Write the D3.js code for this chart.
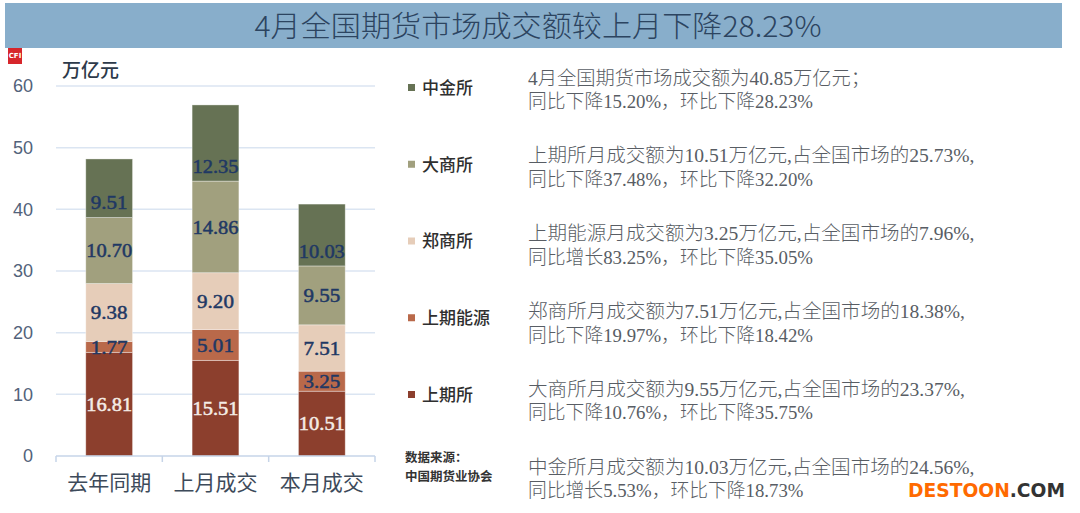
<!DOCTYPE html>
<html><head><meta charset="utf-8">
<script src="https://cdn.jsdelivr.net/npm/d3@7"></script>
<style>html,body{margin:0;padding:0;background:#fff;}svg{display:block;}</style>
</head><body>
<svg id="c" width="1080" height="513"></svg>
<script>
const title = "4月全国期货市场成交额较上月下降28.23%";
const unitLabel = "万亿元";
const categories = ["去年同期", "上月成交", "本月成交"];
const seriesNames = ["上期所", "上期能源", "郑商所", "大商所", "中金所"]; // bottom to top
const shfe  = [16.81, 15.51, 10.51];
const ine   = [1.77, 5.01, 3.25];
const czce  = [9.38, 9.20, 7.51];
const dce   = [10.70, 14.86, 9.55];
const cffex = [9.51, 12.35, 10.03];
const yTicks = [0, 10, 20, 30, 40, 50, 60];
const colors = ["#8c3f2d", "#b9694a", "#e6cdb9", "#a1a07e", "#667254"];
const notes = [
  ["4月全国期货市场成交额为40.85万亿元；", "同比下降15.20%，环比下降28.23%"],
  ["上期所月成交额为10.51万亿元,占全国市场的25.73%,", "同比下降37.48%，环比下降32.20%"],
  ["上期能源月成交额为3.25万亿元,占全国市场的7.96%,", "同比增长83.25%，环比下降35.05%"],
  ["郑商所月成交额为7.51万亿元,占全国市场的18.38%,", "同比下降19.97%，环比下降18.42%"],
  ["大商所月成交额为9.55万亿元,占全国市场的23.37%,", "同比下降10.76%，环比下降35.75%"],
  ["中金所月成交额为10.03万亿元,占全国市场的24.56%,", "同比增长5.53%，环比下降18.73%"]
];
const sourceLines = ["数据来源：", "中国期货业协会"];

const svg = d3.select("#c");
const CJK = "'Noto Sans CJK SC', sans-serif";
const SERIF = "'Liberation Serif', 'Noto Sans CJK SC', serif";

// title bar
svg.append("rect").attr("x", 5).attr("y", 3).attr("width", 1057).attr("height", 45).attr("fill", "#88aecb");
svg.append("text").attr("x", 538).attr("y", 27).attr("dy", "0.35em").attr("text-anchor", "middle")
  .attr("font-family", CJK).attr("font-weight", 300).attr("font-size", 29).attr("fill", "#2c4460")
  .attr("textLength", 567).attr("lengthAdjust", "spacingAndGlyphs").text(title);

// logo
svg.append("rect").attr("x", 8).attr("y", 48).attr("width", 14).attr("height", 16).attr("fill", "#d7262b");
svg.append("text").attr("x", 15).attr("y", 56).attr("dy", "0.35em").attr("text-anchor", "middle")
  .attr("font-family", "DejaVu Sans").attr("font-weight", "bold").attr("font-size", 7).attr("fill", "#fff").text("CFI");

// unit
svg.append("text").attr("x", 62).attr("y", 70).attr("dy", "0.35em")
  .attr("font-family", CJK).attr("font-weight", 500).attr("font-size", 19).attr("fill", "#2d3a4a").text(unitLabel);

// scales
const y = d3.scaleLinear().domain([0, 60]).range([456, 86]);
const x = d3.scaleBand().domain(categories).range([56, 375]).paddingInner(0.56).paddingOuter(0.28);

// grid
svg.append("g").selectAll("line").data(yTicks.filter(d => d > 0)).join("line")
  .attr("x1", 56).attr("x2", 375).attr("y1", d => y(d)).attr("y2", d => y(d))
  .attr("stroke", "#dbe5f2").attr("stroke-width", 1.5);

// y tick labels
svg.append("g").selectAll("text").data(yTicks).join("text")
  .attr("x", 33).attr("y", d => y(d)).attr("dy", "0.35em").attr("text-anchor", "end")
  .attr("font-family", "'Liberation Sans', sans-serif").attr("font-size", 18).attr("fill", "#52627a")
  .text(d => d);

// stacked data
const table = categories.map((c, i) => ({
  cat: c, "上期所": shfe[i], "上期能源": ine[i], "郑商所": czce[i], "大商所": dce[i], "中金所": cffex[i]
}));
const stacked = d3.stack().keys(seriesNames)(table);

const layers = svg.append("g").selectAll("g").data(stacked).join("g")
  .attr("fill", (d, i) => colors[i]);
layers.selectAll("rect").data(d => d).join("rect")
  .attr("x", d => x(d.data.cat)).attr("width", x.bandwidth())
  .attr("y", d => y(d[1])).attr("height", d => y(d[0]) - y(d[1]))
  .attr("stroke", "rgba(255,255,255,0.45)").attr("stroke-width", 0.8);

// bar labels
const lab = svg.append("g");
stacked.forEach((layer, si) => {
  layer.forEach(d => {
    const v = d[1] - d[0];
    const isTop = si === stacked.length - 1;
    const cy = isTop ? y(d[0]) - 15 : (y(d[0]) + y(d[1])) / 2;
    const t = v.toFixed(2);
    const col = si === 0 ? "#f4ece6" : "#1f3864";
    lab.append("text").attr("x", x(d.data.cat) + x.bandwidth() / 2).attr("y", cy).attr("dy", "0.35em")
      .attr("text-anchor", "middle").attr("font-family", SERIF).attr("font-weight", "normal")
      .attr("font-size", 19).attr("fill", col).attr("stroke", col).attr("stroke-width", 0.5)
      .attr("textLength", t.length * 9.2).attr("lengthAdjust", "spacingAndGlyphs").text(t);
  });
});

// x axis
svg.append("line").attr("x1", 56).attr("x2", 375).attr("y1", y(0)).attr("y2", y(0))
  .attr("stroke", "#c6d4e8").attr("stroke-width", 1.5);
const bounds = categories.map(c => x(c) - x.step() * x.paddingInner() / 2);
bounds.push(375);
bounds[0] = 56;
svg.append("g").selectAll("line").data(bounds).join("line")
  .attr("x1", d => d).attr("x2", d => d).attr("y1", y(0)).attr("y2", y(0) + 6)
  .attr("stroke", "#c6d4e8").attr("stroke-width", 1.5);
svg.append("g").selectAll("text").data(categories).join("text")
  .attr("x", d => x(d) + x.bandwidth() / 2).attr("y", 483).attr("dy", "0.35em").attr("text-anchor", "middle")
  .attr("font-family", CJK).attr("font-size", 21).attr("fill", "#3d4a5a").text(d => d);

// legend (top to bottom)
const legendOrder = seriesNames.slice().reverse();
const ly = d3.scalePoint().domain(legendOrder).range([88, 395]);
const lg = svg.append("g").selectAll("g").data(legendOrder).join("g");
lg.append("rect").attr("x", 408).attr("y", d => ly(d) - 4).attr("width", 7).attr("height", 7)
  .attr("fill", d => colors[seriesNames.indexOf(d)]);
lg.append("text").attr("x", 422).attr("y", d => ly(d)).attr("dy", "0.35em")
  .attr("font-family", CJK).attr("font-weight", 500).attr("font-size", 17).attr("fill", "#2f2f2f").text(d => d);

// notes
const emWidth = s => Array.from(s).reduce((a, ch) => a + (ch.charCodeAt(0) > 0x2E80 ? 1 : 0.5), 0);
const ny = d3.scaleLinear().domain([0, notes.length - 1]).range([78, 467]);
const ng = svg.append("g");
notes.forEach((lines, i) => {
  lines.forEach((ln, j) => {
    ng.append("text").attr("x", 528).attr("y", ny(i) + j * 23.5).attr("dy", "0.35em")
      .attr("font-family", SERIF).attr("font-weight", 300).attr("font-size", 19).attr("fill", "#585d64")
      .attr("textLength", emWidth(ln) * 19).attr("lengthAdjust", "spacingAndGlyphs").text(ln);
  });
});

// source
sourceLines.forEach((s, i) => {
  svg.append("text").attr("x", 405).attr("y", 458 + i * 19).attr("dy", "0.35em")
    .attr("font-family", CJK).attr("font-weight", "bold").attr("font-size", 12.5).attr("fill", "#333").text(s);
});

// watermark
const wm = svg.append("text").attr("x", 908).attr("y", 490).attr("dy", "0.35em")
  .attr("font-family", "'DejaVu Sans', sans-serif").attr("font-weight", "bold").attr("font-size", 19)
  .attr("textLength", 157).attr("lengthAdjust", "spacingAndGlyphs");
wm.append("tspan").attr("fill", "#ff6a00").text("DESTOON");
wm.append("tspan").attr("fill", "#333").text(".COM");
</script>
</body></html>
